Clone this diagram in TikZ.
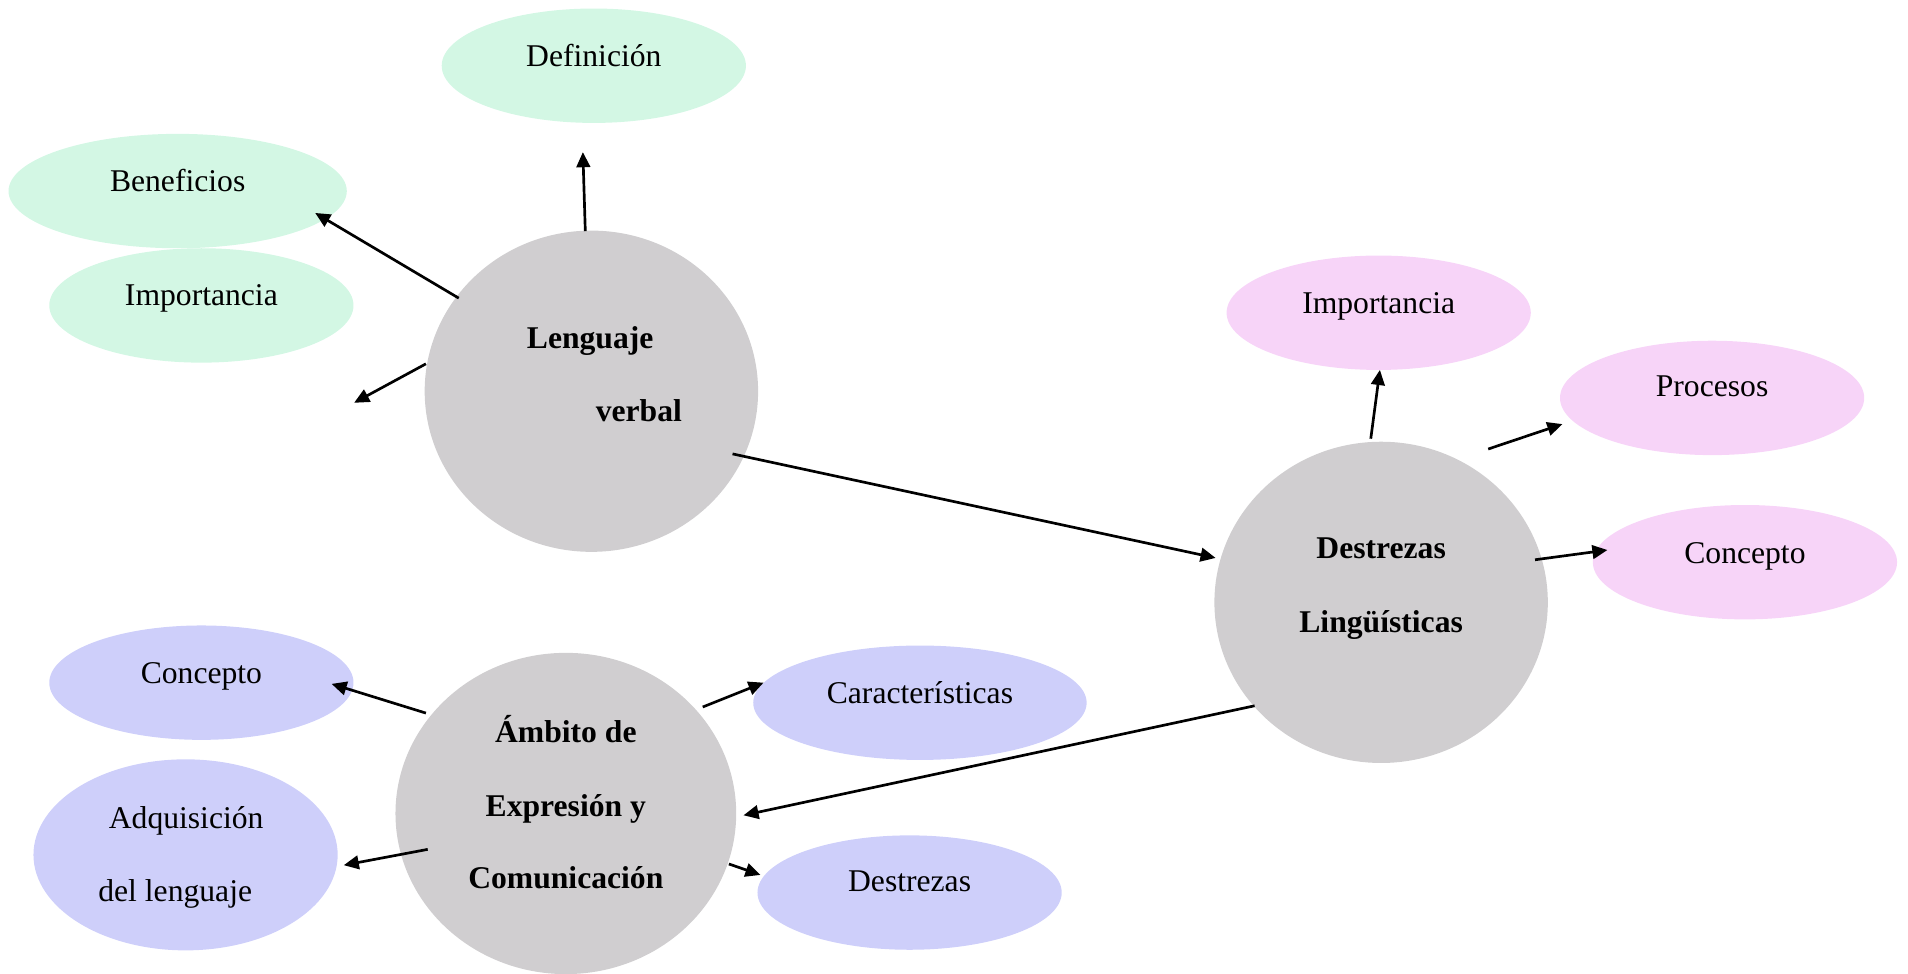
\documentclass[tikz,border=0pt]{standalone}
\usepackage{fontspec}
\setmainfont{Liberation Serif}
\usetikzlibrary{shapes.geometric,arrows.meta}
\definecolor{cgreen}{RGB}{211,247,228}
\definecolor{cpink}{RGB}{247,212,248}
\definecolor{cblue}{RGB}{206,207,250}
\definecolor{cgray}{RGB}{208,206,208}
\begin{document}
\begin{tikzpicture}[x=0.5pt,y=-0.5pt,
  font=\fontsize{13}{15}\selectfont,
  blob/.style={ellipse, inner sep=0pt, draw=none},
  small/.style={blob, minimum width=125pt, minimum height=47pt},
  hub/.style={blob, fill=cgray, minimum width=137pt, minimum height=132pt},
  lbl/.style={anchor=base, inner sep=0pt},
  hubl/.style={lbl, font=\fontsize{13}{15}\selectfont\bfseries},
  arr/.style={line width=1.1pt, -{Triangle[length=6.2pt,width=5.6pt]}}]
\useasboundingbox (0,0) rectangle (1568,800);
% ellipses
\node[small, fill=cgreen] (def) at (488,54) {};
\node[small, fill=cgreen, minimum width=139pt] (ben) at (146,157) {};
\node[small, fill=cgreen] (impg) at (165.5,251) {};
\node[hub] (lv) at (486,321.5) {};
\node[small, fill=cpink] (impp) at (1133,257) {};
\node[small, fill=cpink] (pro) at (1407,327) {};
\node[small, fill=cpink] (conp) at (1434,462) {};
\node[hub] (dl) at (1135,495) {};
\node[small, fill=cblue] (conb) at (165.5,561) {};
\node[small, fill=cblue, minimum height=78.5pt] (adq) at (152.5,702.5) {};
\node[small, fill=cblue, minimum width=137pt] (car) at (756,577.5) {};
\node[small, fill=cblue] (des) at (747.5,733.5) {};
\node[hub, minimum width=140pt] (aec) at (465,668.5) {};
% labels
\node[lbl] (tdef) at (488,55) {Definición};
\node[lbl] (tben) at (146,157) {Beneficios};
\node[lbl] (timpg) at (165.5,251) {Importancia};
\node[hubl] (tlv1) at (485,286) {Lenguaje};
\node[hubl] (tlv2) at (525,346) {verbal};
\node[lbl] (timpp) at (1133,257.5) {Importancia};
\node[lbl] (tpro) at (1407,326) {Procesos};
\node[lbl] (tconp) at (1434,463) {Concepto};
\node[hubl] (tdl1) at (1135,459) {Destrezas};
\node[hubl] (tdl2) at (1135,520) {Lingüísticas};
\node[lbl] (tconb) at (165.5,562) {Concepto};
\node[lbl] (tadq1) at (153,681) {Adquisición};
\node[lbl] (tadq2) at (144,741) {del lenguaje};
\node[lbl] (tcar) at (756,578) {Características};
\node[lbl] (tdes) at (747.5,733) {Destrezas};
\node[hubl] (taec1) at (465,610) {Ámbito de};
\node[hubl] (taec2) at (465,671) {Expresión y};
\node[hubl] (taec3) at (465,730.5) {Comunicación};
% connector end points
\coordinate (a1s) at (481,190);   \coordinate (a1e) at (479,125);
\coordinate (a2s) at (377,245);   \coordinate (a2e) at (259,175);
\coordinate (a3s) at (350,299);   \coordinate (a3e) at (291,331);
\coordinate (a4s) at (602,373);   \coordinate (a4e) at (999,458.5);
\coordinate (b1s) at (1126.5,360.5); \coordinate (b1e) at (1134,304);
\coordinate (b2s) at (1223,369);  \coordinate (b2e) at (1284,348.5);
\coordinate (b3s) at (1261.5,460); \coordinate (b3e) at (1321,452);
\coordinate (b4s) at (1031,580);  \coordinate (b4e) at (611,670);
\coordinate (c1s) at (350,586);   \coordinate (c1e) at (272.5,562);
\coordinate (c2s) at (577.5,581); \coordinate (c2e) at (627.5,561);
\coordinate (c3s) at (351.5,698); \coordinate (c3e) at (282.5,711);
\coordinate (c4s) at (599,710);   \coordinate (c4e) at (625,719);
% connectors
\draw[arr] (a1s) -- (a1e);
\draw[arr] (a2s) -- (a2e);
\draw[arr] (a3s) -- (a3e);
\draw[arr] (a4s) -- (a4e);
\draw[arr] (b1s) -- (b1e);
\draw[arr] (b2s) -- (b2e);
\draw[arr] (b3s) -- (b3e);
\draw[arr] (b4s) -- (b4e);
\draw[arr] (c1s) -- (c1e);
\draw[arr] (c2s) -- (c2e);
\draw[arr] (c3s) -- (c3e);
\draw[arr] (c4s) -- (c4e);
\end{tikzpicture}
\end{document}
